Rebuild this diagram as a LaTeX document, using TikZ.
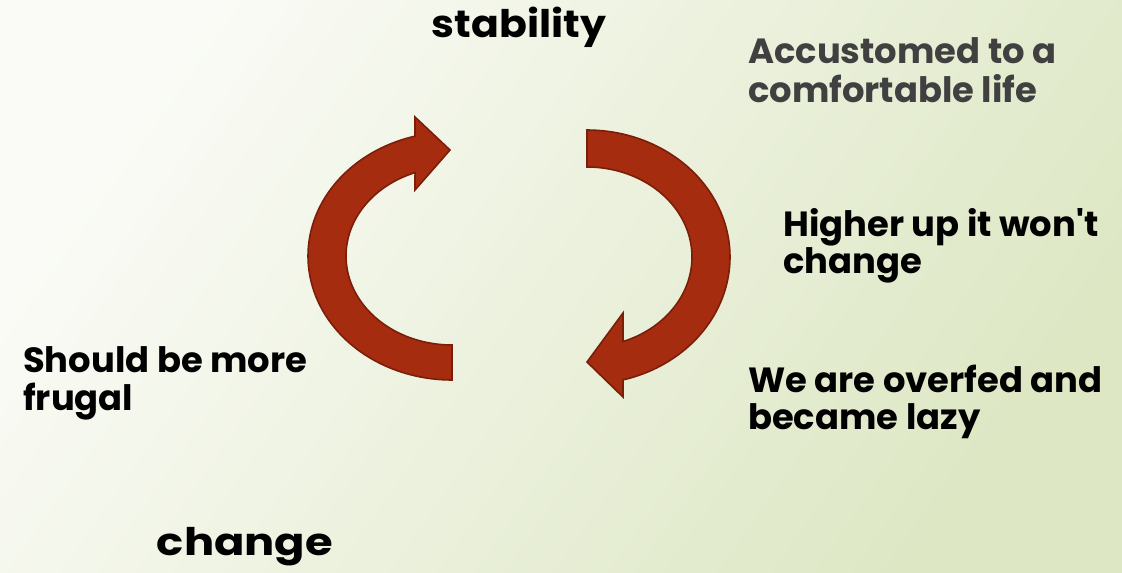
\documentclass[tikz,border=0pt]{standalone}
\usepackage{fontspec}
\setmainfont{Poppins}
\newfontfamily\stabfont{Poppins}[FakeStretch=1.08]
\newfontfamily\chgfont{Poppins}[FakeStretch=1.18]
\newfontfamily\bodyfont{Poppins}[FakeStretch=1.01]
\definecolor{arrowred}{RGB}{166,44,16}
\definecolor{arrowline}{RGB}{122,30,10}
\definecolor{bgA}{RGB}{250,251,246}
\definecolor{bgB}{RGB}{221,231,196}
\definecolor{graytext}{RGB}{64,64,64}
\tikzset{
  bigarrow/.style={fill=arrowred, draw=arrowline, line width=1.6pt, line join=miter},
  lbl/.style={inner sep=0pt, anchor=base west, font=\bodyfont\fontsize{35}{37}\selectfont\bfseries},
}
\begin{document}
\begin{tikzpicture}[x=1pt,y=-1pt]
\useasboundingbox (0,0) rectangle (1122,573);
\shade[left color=bgA, right color=bgB, shading angle=55] (0,0) rectangle (1122,573);
% left arrow (up, clockwise to the right)
\draw[bigarrow] (452,380)
  -- plot[domain=90:255.1, samples=80] ({452+144*cos(\x)},{256+124*sin(\x)})
  -- (415,117) -- (450,150) -- (415,190)
  -- plot[domain=249.6:90, samples=80] ({452+106*cos(\x)},{256+89*sin(\x)})
  -- cycle;
% right arrow (down, clockwise to the left)
\draw[bigarrow] (587,130)
  -- plot[domain=-90:75.4, samples=80] ({587+143*cos(\x)},{257+127*sin(\x)})
  -- (623,397) -- (587,362) -- (623,313)
  -- plot[domain=69.95:-90, samples=80] ({587+105*cos(\x)},{257+90*sin(\x)})
  -- cycle;
\node[lbl, anchor=base, font=\stabfont\fontsize{38}{40}\selectfont\bfseries] (stab) at (519,37) {stability};
\node[lbl, text=graytext] (accu) at (748,63) {\begin{tabular}[t]{@{}l@{}}\fontsize{35}{45}\selectfont Accustomed to a\\\fontsize{35}{45}\selectfont comfortable life\end{tabular}};
\node[lbl] (high) at (783,236) {\begin{tabular}[t]{@{}l@{}}Higher up it won{\char"27}t\\change\end{tabular}};
\node[lbl] (over) at (748,392) {\begin{tabular}[t]{@{}l@{}}We are overfed and\\became lazy\end{tabular}};
\node[lbl] (frug) at (23,372) {\begin{tabular}[t]{@{}l@{}}Should be more\\frugal\end{tabular}};
\node[lbl, anchor=base, font=\chgfont\fontsize{38}{40}\selectfont\bfseries] (chg) at (245,555) {change};
\end{tikzpicture}
\end{document}
